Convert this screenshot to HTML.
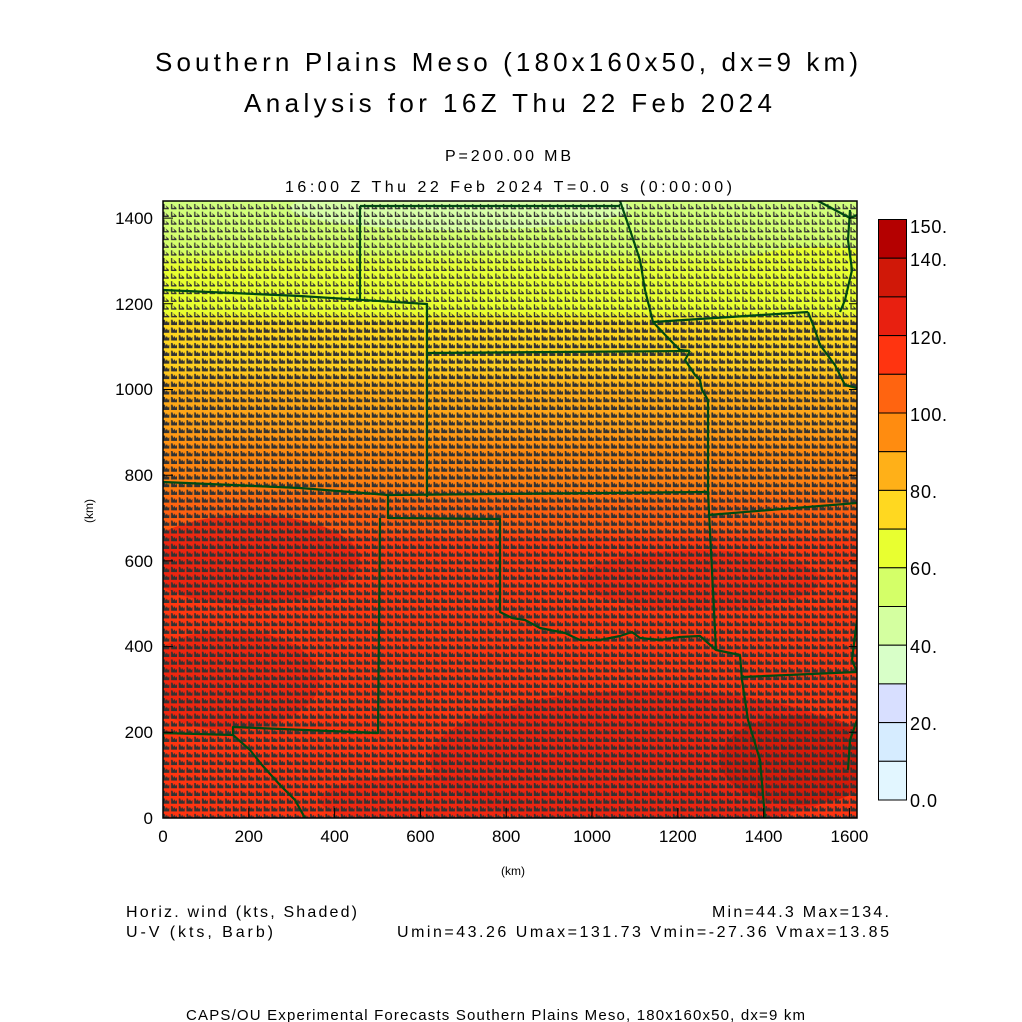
<!DOCTYPE html>
<html><head><meta charset="utf-8"><style>
body{margin:0;background:#fff;}
svg{display:block;font-family:"Liberation Sans",sans-serif;}
</style></head><body>
<svg width="1022" height="1022" viewBox="0 0 1022 1022" xmlns="http://www.w3.org/2000/svg">
<defs>
<linearGradient id="fld" x1="0" y1="201" x2="0" y2="818" gradientUnits="userSpaceOnUse">
<stop offset="0" stop-color="#d2ff80"/>
<stop offset="0.08" stop-color="#d4ff68"/>
<stop offset="0.10" stop-color="#e6ff38"/>
<stop offset="0.18" stop-color="#e8ff30"/>
<stop offset="0.20" stop-color="#ffd820"/>
<stop offset="0.27" stop-color="#ffd020"/>
<stop offset="0.30" stop-color="#ffb018"/>
<stop offset="0.37" stop-color="#ffa018"/>
<stop offset="0.40" stop-color="#ff8c10"/>
<stop offset="0.46" stop-color="#ff8010"/>
<stop offset="0.49" stop-color="#ff6410"/>
<stop offset="0.53" stop-color="#ff5a10"/>
<stop offset="0.55" stop-color="#ff3810"/>
<stop offset="1" stop-color="#ff3410"/>
</linearGradient>
<pattern id="bh" x="163" y="203" width="7.72" height="7.72" patternUnits="userSpaceOnUse">
<path d="M0.3,1 L0.3,6.3 L6.3,6.3 L6.3,2.5 L5,4 L3.8,1.8 L2.6,3.6 L1.8,1 Z" fill="#333"/>
</pattern>
<pattern id="bt" x="163" y="203" width="7.72" height="7.72" patternUnits="userSpaceOnUse">
<path d="M0.3,1 L0.3,6.3 L5.8,6.3 L5.8,5 L1.6,5 L1.6,1 Z M2.5,2.2 L5.8,5 L3.8,5 Z" fill="#333"/>
</pattern>
<clipPath id="cp"><rect x="163" y="201" width="694" height="617"/></clipPath>
</defs>
<rect width="1022" height="1022" fill="#fff"/>
<g clip-path="url(#cp)">
<rect x="163" y="201" width="694" height="617" fill="url(#fld)"/>
<ellipse cx="460" cy="208" rx="170" ry="22" fill="#d8ffa8"/>
<ellipse cx="200" cy="285" rx="60" ry="22" fill="#e8ff30"/>
<ellipse cx="820" cy="275" rx="90" ry="28" fill="#e8ff30"/>
<ellipse cx="250" cy="560" rx="110" ry="45" fill="#e82010" opacity="0.8"/>
<ellipse cx="230" cy="680" rx="90" ry="50" fill="#e82010" opacity="0.7"/>
<ellipse cx="700" cy="580" rx="120" ry="30" fill="#e82010" opacity="0.6"/>
<ellipse cx="650" cy="760" rx="220" ry="70" fill="#e82010" opacity="0.8"/>
<ellipse cx="800" cy="760" rx="80" ry="45" fill="#d01808" opacity="0.8"/>
<ellipse cx="420" cy="800" rx="100" ry="25" fill="#e82010" opacity="0.6"/>
<rect x="163" y="201" width="694" height="115" fill="url(#bt)"/>
<rect x="163" y="316" width="694" height="502" fill="url(#bh)"/>
<g fill="none" stroke="#004a12" stroke-width="2.2" stroke-linejoin="round">
<polyline points="163,290 300,296 427,304 427,497"/>
<polyline points="360,206 360,300"/>
<polyline points="360,206 620,206"/>
<polyline points="427,353 690,351"/>
<polyline points="163,482 300,488 388,495 708,492"/>
<polyline points="388,495 388,518 500,519 500,612 512,618 525,620 540,628 565,633 580,640 600,640 620,636 632,632 640,638 660,640 680,637 700,636 716,650"/>
<polyline points="380,518 378,733 233,727 233,735 163,733 163,745"/>
<polyline points="233,735 250,750 262,765 280,785 295,800 305,818"/>
<polyline points="690,351 685,360 695,375 700,380 702,390 708,400 708,492 716,650 740,655 742,680 748,720 760,760 765,818"/>
<polyline points="708,515 857,503"/>
<polyline points="742,677 857,672"/>
<polyline points="653,322 808,312"/>
<polyline points="620,201 630,230 640,260 645,290 653,322 670,340 680,350 690,351"/>
<polyline points="808,312 815,330 820,345 835,365 845,385 857,388"/>
<polyline points="818,201 835,210 850,218 857,215"/>
<polyline points="850,210 848,240 852,270 845,300 840,312"/>
<polyline points="857,620 852,660 857,672"/>
<polyline points="857,720 850,740 848,770"/>
</g>
</g>
<rect x="163" y="201" width="694" height="617" fill="none" stroke="#000" stroke-width="1.5"/>
<g stroke="#000" stroke-width="1">
<path d="M163,818v-10M248.8,818v-10M334.6,818v-10M420.4,818v-10M506.2,818v-10M592,818v-10M677.8,818v-10M763.6,818v-10M849.4,818v-10"/>
<path d="M163,818h10M163,732.3h10M163,646.6h10M163,560.9h10M163,475.2h10M163,389.5h10M163,303.8h10M163,218.1h10"/>
<path d="M857,732.3h-8M857,646.6h-8M857,560.9h-8M857,475.2h-8M857,389.5h-8M857,303.8h-8M857,218.1h-8"/>
</g>
<g font-size="17" fill="#000" text-anchor="middle">
<text x="163" y="842">0</text><text x="248.8" y="842">200</text><text x="334.6" y="842">400</text><text x="420.4" y="842">600</text><text x="506.2" y="842">800</text><text x="592" y="842">1000</text><text x="677.8" y="842">1200</text><text x="763.6" y="842">1400</text><text x="849.4" y="842">1600</text>
</g>
<g font-size="17" fill="#000" text-anchor="end">
<text x="153" y="824">0</text><text x="153" y="738">200</text><text x="153" y="652">400</text><text x="153" y="567">600</text><text x="153" y="481">800</text><text x="153" y="395">1000</text><text x="153" y="310">1200</text><text x="153" y="224">1400</text>
</g>
<text x="513" y="875" font-size="12" text-anchor="middle">(km)</text>
<text x="93" y="511" font-size="12" text-anchor="middle" transform="rotate(-90 93 511)">(km)</text>
<g font-size="26" fill="#000">
<text x="155" y="71" textLength="703" lengthAdjust="spacing">Southern Plains Meso (180x160x50, dx=9 km)</text>
<text x="244" y="112" textLength="528" lengthAdjust="spacing">Analysis for 16Z Thu 22 Feb 2024</text>
</g>
<g font-size="16" fill="#000">
<text x="445" y="161" textLength="126" lengthAdjust="spacing">P=200.00 MB</text>
<text x="285" y="192" textLength="447" lengthAdjust="spacing">16:00 Z Thu 22 Feb 2024   T=0.0 s (0:00:00)</text>
</g>
<g stroke="#000" stroke-width="1">
<rect x="878.5" y="219.5" width="28" height="38.7" fill="#b40000"/>
<rect x="878.5" y="258.2" width="28" height="38.7" fill="#d01808"/>
<rect x="878.5" y="296.9" width="28" height="38.7" fill="#e82010"/>
<rect x="878.5" y="335.6" width="28" height="38.7" fill="#ff3410"/>
<rect x="878.5" y="374.3" width="28" height="38.7" fill="#ff6410"/>
<rect x="878.5" y="413" width="28" height="38.7" fill="#ff8c10"/>
<rect x="878.5" y="451.7" width="28" height="38.7" fill="#ffb018"/>
<rect x="878.5" y="490.4" width="28" height="38.7" fill="#ffd820"/>
<rect x="878.5" y="529.1" width="28" height="38.7" fill="#e8ff30"/>
<rect x="878.5" y="567.8" width="28" height="38.7" fill="#d4ff68"/>
<rect x="878.5" y="606.5" width="28" height="38.7" fill="#d4ffa0"/>
<rect x="878.5" y="645.2" width="28" height="38.7" fill="#d8ffc8"/>
<rect x="878.5" y="683.9" width="28" height="38.7" fill="#d8dfff"/>
<rect x="878.5" y="722.6" width="28" height="38.7" fill="#d6ecff"/>
<rect x="878.5" y="761.3" width="28" height="38.7" fill="#e2f6ff"/>
</g>
<g font-size="18" fill="#000">
<text x="910" y="233" textLength="37">150.</text><text x="910" y="266" textLength="37">140.</text><text x="910" y="344" textLength="37">120.</text><text x="910" y="421" textLength="37">100.</text><text x="910" y="498" textLength="27">80.</text><text x="910" y="575" textLength="27">60.</text><text x="910" y="653" textLength="27">40.</text><text x="910" y="730" textLength="27">20.</text><text x="910" y="807" textLength="27">0.0</text>
</g>
<g font-size="16" fill="#000">
<text x="126" y="917" textLength="231" lengthAdjust="spacing">Horiz. wind (kts, Shaded)</text>
<text x="126" y="937" textLength="147" lengthAdjust="spacing">U-V (kts, Barb)</text>
<text x="712" y="917" textLength="177" lengthAdjust="spacing">Min=44.3 Max=134.</text>
<text x="397" y="937" textLength="492" lengthAdjust="spacing">Umin=43.26 Umax=131.73 Vmin=-27.36 Vmax=13.85</text>
<text x="186" y="1020" font-size="15" textLength="619" lengthAdjust="spacing">CAPS/OU Experimental Forecasts  Southern Plains Meso, 180x160x50, dx=9 km</text>
</g>
</svg>
</body></html>
